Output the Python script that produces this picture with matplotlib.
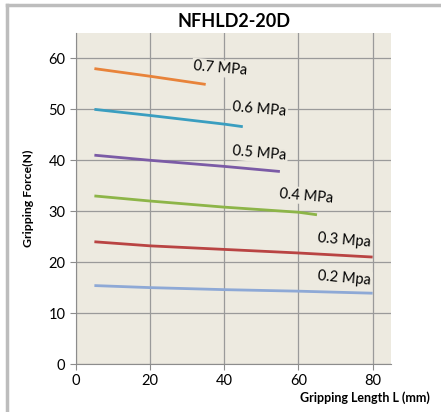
import numpy as np
import matplotlib.pyplot as plt

plt.rcParams['font.family'] = ['Lato', 'DejaVu Sans']

labels = ['0.7 MPa', '0.6 MPa', '0.5 MPa', '0.4 MPa', '0.3 Mpa', '0.2 Mpa']
colors = ['#E8833A', '#3A9EC0', '#7B5BA6', '#8DB548', '#B94443', '#8EA9D6']

x07 = [5, 20, 35]
y07 = [58.0, 56.5, 54.9]
x06 = [5, 20, 40, 45]
y06 = [50.0, 48.8, 47.1, 46.6]
x05 = [5, 20, 40, 55]
y05 = [41.0, 40.0, 38.8, 37.8]
x04 = [5, 20, 40, 60, 65]
y04 = [33.0, 32.0, 30.8, 29.8, 29.3]
x03 = [5, 20, 40, 60, 80]
y03 = [24.0, 23.2, 22.5, 21.8, 21.0]
x02 = [5, 20, 40, 60, 80]
y02 = [15.4, 15.0, 14.6, 14.3, 13.9]

xs = [x07, x06, x05, x04, x03, x02]
ys = [y07, y06, y05, y04, y03, y02]

# label anchor (data coords)
lab_x = [39.0, 49.5, 49.5, 62.2, 72.3, 72.3]
lab_y = [58.0, 49.9, 41.3, 33.0, 24.3, 16.8]

bg = '#EDEAE0'

fig = plt.figure(figsize=(4.41, 4.12), dpi=100)
ax = fig.add_axes([0.172, 0.1165, 0.715, 0.8035])
ax.set_facecolor(bg)

for x, y, c in zip(xs, ys, colors):
    ax.plot(x, y, color=c, lw=2, solid_capstyle='butt', zorder=3)

for t, lx, ly in zip(labels, lab_x, lab_y):
    ax.text(lx, ly, t, fontsize=10.5, rotation=-5, ha='center', va='center',
            bbox=dict(facecolor=bg, edgecolor='none', pad=1), zorder=4)

ax.set_xlim(0, 85)
ax.set_ylim(0, 65)
ax.set_xticks([0, 20, 40, 60, 80])
ax.set_yticks([0, 10, 20, 30, 40, 50, 60])
ax.grid(True, color='#9A9A9A', lw=0.9)
ax.set_axisbelow(True)
for s in ['top', 'right']:
    ax.spines[s].set_visible(False)
for s in ['left', 'bottom']:
    ax.spines[s].set_color('#8C8C8C')
ax.tick_params(colors='#8C8C8C', labelcolor='black', labelsize=10.5, length=4, direction='out')

ax.set_title('NFHLD2-20D', fontsize=13, fontweight='bold', pad=4)
ax.set_ylabel('Gripping Force(N)', fontsize=8.8, fontweight='bold', labelpad=10)
fig.text(0.975, 0.035, 'Gripping Length L (mm)', fontsize=9, fontweight='bold',
         ha='right', va='center')

# outer frame (left and top edges)
fig.add_artist(plt.Line2D([0.015, 0.015], [0.0, 0.988], color='#BDBDBD', lw=2.5,
                          transform=fig.transFigure))
fig.add_artist(plt.Line2D([0.015, 1.0], [0.988, 0.988], color='#BDBDBD', lw=2.5,
                          transform=fig.transFigure))

fig.savefig('out.png', dpi=100)
